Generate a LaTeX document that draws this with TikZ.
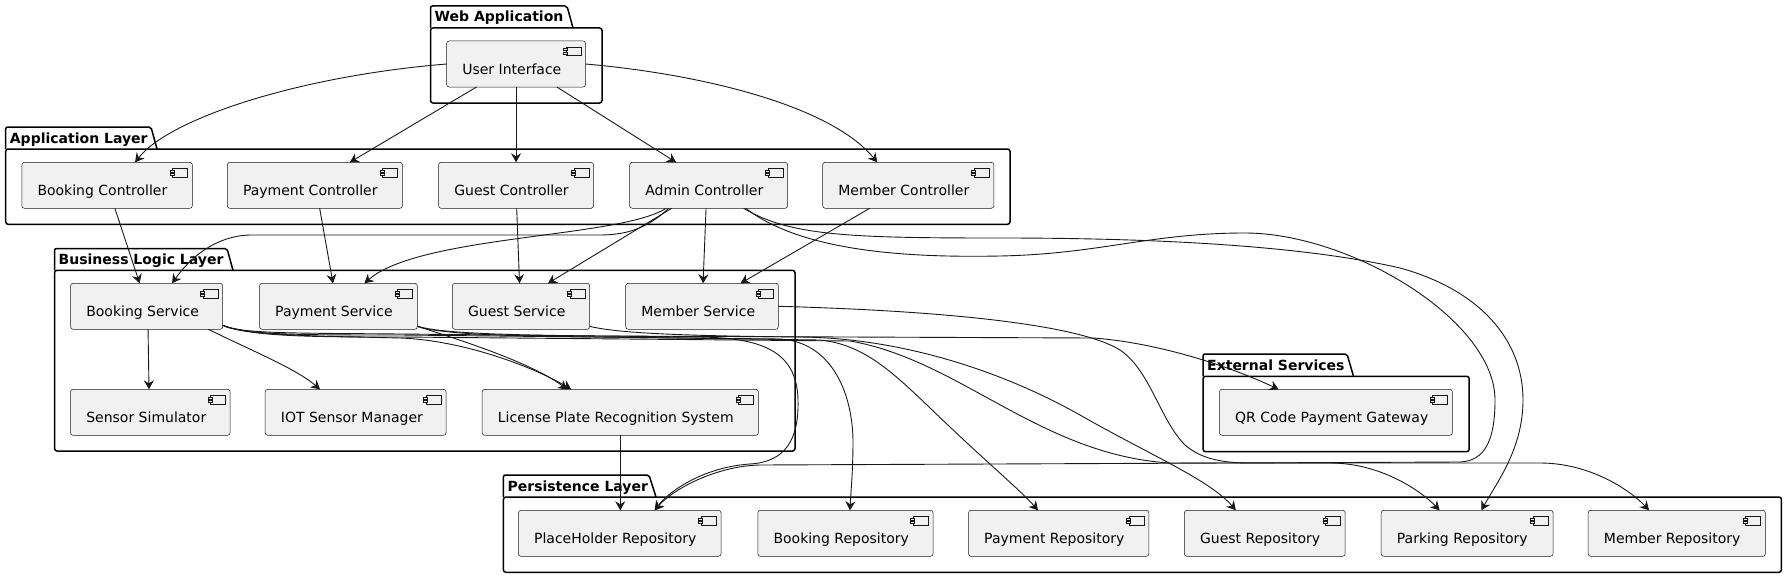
\documentclass[tikz,border=0pt]{standalone}
\usepackage{fontspec}
\setmainfont{DejaVu Sans}
\usetikzlibrary{arrows.meta}
\definecolor{compfill}{HTML}{F1F1F1}
\definecolor{ec}{HTML}{181818}
\tikzset{
  comp/.style={draw=ec, fill=compfill, rounded corners=2.5pt, line width=0.5pt, inner sep=0pt, outer sep=0pt},
  iconst/.style={draw=ec, fill=compfill, line width=0.5pt},
  lbl/.style={inner sep=0pt, font=\fontsize{14}{16}\selectfont, text=black},
  pkgst/.style={draw=black, line width=1.5pt},
  pkglbl/.style={inner sep=0pt, font=\fontsize{14}{16}\selectfont\bfseries, text=black},
  conn/.style={draw=ec, line width=0.9pt, -{Stealth[length=9pt,width=10pt,inset=3pt]}}
}
\newcommand\compbox[6]{%
  \node[comp, minimum width={(#3-#2)*1pt}, minimum height={(#5-#4)*1pt}] (#1) at ({(#2+#3)/2},{(#4+#5)/2}) {};
  \draw[iconst] ([xshift=-19.7pt,yshift=-6pt]#1.north east) rectangle ++(15,8.6);
  \draw[iconst] ([xshift=-22.3pt,yshift=-7.6pt]#1.north east) rectangle ++(4,2);
  \draw[iconst] ([xshift=-22.3pt,yshift=-11pt]#1.north east) rectangle ++(4,2);
  \node[lbl, anchor=base west] at ({#2+15.5},{#4+33.3}) {#6};
}
\newcommand\pkgbox[8]{%
  \draw[pkgst, rounded corners=2pt] (#1,#5) -- (#1,#2) -- (#3,#2) -- (#4,#5);
  \draw[pkgst, rounded corners=2.5pt] (#1,#5) rectangle (#6,#7);
  \node[pkglbl, anchor=base west] at ({#1+4},{#2+16}) {#8};
}
\begin{document}
\begin{tikzpicture}[x=1pt,y=-1pt]
\useasboundingbox (0,0) rectangle (1787,578);
% packages
\pkgbox{430.5}{6}{567}{573}{28}{602}{103}{Web Application}
\pkgbox{5.7}{127}{151}{157}{149}{1010}{224.3}{Application Layer}
\pkgbox{54.5}{248.5}{227}{233}{270.3}{795}{451}{Business Logic Layer}
\pkgbox{1203}{354}{1347}{1353.5}{376.3}{1469.2}{451.7}{External Services}
\pkgbox{503.4}{475}{649}{656}{497}{1781.4}{572.3}{Persistence Layer}
% components
\compbox{ui}{446.6}{585.5}{41}{87}{User Interface}
\compbox{bc}{21.8}{192.3}{162.3}{208.3}{Booking Controller}
\compbox{pc}{227.3}{402.4}{162.3}{208.3}{Payment Controller}
\compbox{gc}{438.6}{593.6}{162.3}{208.3}{Guest Controller}
\compbox{ac}{629.7}{787.6}{162.3}{208.3}{Admin Controller}
\compbox{mc}{822.7}{993.8}{162.3}{208.3}{Member Controller}
\compbox{bs}{70.6}{222.7}{283.3}{329.3}{Booking Service}
\compbox{ps}{259.5}{417.3}{283.3}{329.3}{Payment Service}
\compbox{gs}{452.4}{589.6}{283.3}{329.3}{Guest Service}
\compbox{ms}{625.7}{778.4}{283.3}{329.3}{Member Service}
\compbox{ss}{70.6}{230.2}{389.3}{435.3}{Sensor Simulator}
\compbox{iot}{265.2}{446}{389.3}{435.3}{IOT Sensor Manager}
\compbox{lpr}{482.2}{758.3}{389.3}{435.3}{License Plate Recognition System}
\compbox{qr}{1219.5}{1452.3}{389.3}{435.3}{QR Code Payment Gateway}
\compbox{phr}{518.4}{721}{510.3}{556.3}{PlaceHolder Repository}
\compbox{brp}{757.8}{933}{510.3}{556.3}{Booking Repository}
\compbox{prp}{968.5}{1148.8}{510.3}{556.3}{Payment Repository}
\compbox{grp}{1184.4}{1345.2}{510.3}{556.3}{Guest Repository}
\compbox{parp}{1381.2}{1553}{510.3}{556.3}{Parking Repository}
\compbox{mrp}{1588.2}{1765.3}{510.3}{556.3}{Member Repository}
% UI -> controllers
\draw[conn] (ui.west) .. controls (300,76) and (170,118) .. ([xshift=28pt]bc.north);
\draw[conn] ([xshift=-39.5pt]ui.south) -- ([xshift=35pt]pc.north);
\draw[conn] (ui.south) -- (ui.south |- gc.north);
\draw[conn] ([xshift=40.8pt]ui.south) -- ([xshift=-32.6pt]ac.north);
\draw[conn] (ui.east) .. controls (700,74) and (830,105) .. ([xshift=-31pt]mc.north);
% controllers -> services
\draw[conn] ([xshift=7.8pt]bc.south) -- ([xshift=-7pt]bs.north);
\draw[conn] ([xshift=4.8pt]pc.south) -- ([xshift=-5.4pt]ps.north);
\draw[conn] ([xshift=0.6pt]gc.south) -- ([xshift=-1.5pt]gs.north);
\draw[conn] ([xshift=-2.6pt]ac.south) -- ([xshift=1pt]ms.north);
\draw[conn] ([xshift=-38.5pt]mc.south) -- ([xshift=38.5pt]ms.north);
\draw[conn] ([xshift=-37pt]ac.south) -- ([xshift=27pt]gs.north);
\draw[conn] ([xshift=-42.6pt]ac.south) .. controls (620,238) and (420,235) .. ([xshift=26pt]ps.north);
\draw[conn] ([xshift=-40pt]ac.south) .. controls (650,226) and (630,235) .. (600,235) -- (250,235) .. controls (215,236) and (190,258) .. ([xshift=25.4pt]bs.north);
% admin loops
\draw[conn] ([xshift=35pt]ac.south) .. controls (790,236) and (850,238) .. (1000,238) .. controls (1150,238) and (1300,245) .. (1400,268) .. controls (1480,290) and (1523,340) .. (1523,400) .. controls (1523,450) and (1495,485) .. ([xshift=14.4pt]parp.north);
\draw[conn] ([xshift=37pt]ac.south) .. controls (800,250) and (900,258) .. (1000,256) .. controls (1100,254) and (1150,233) .. (1245,233) .. controls (1350,233) and (1495,320) .. (1495,400) .. controls (1495,440) and (1485,461) .. (1460,462) -- (760,465) .. controls (715,466) and (672,490) .. ([xshift=35pt]phr.north);
% services
\draw[conn] ([xshift=1.4pt]bs.south) -- ([xshift=-1.4pt]ss.north);
\draw[conn] ([xshift=-14.3pt]bs.south east) .. controls (250,350) and (295,368) .. ([xshift=-35.6pt]iot.north);
\draw[conn] ([yshift=4pt]bs.south east) .. controls (250,336) and (320,336) .. (400,338) .. controls (460,340) and (530,365) .. ([xshift=-49pt]lpr.north);
\draw[conn] ([yshift=3pt]ps.south east) .. controls (460,340) and (530,362) .. ([xshift=-53pt]lpr.north);
\draw[conn] (lpr.south) -- (lpr.south |- phr.north);
\draw[conn] ([yshift=4pt]bs.south east) .. controls (240,334) and (300,333) .. (400,334) -- (700,337) .. controls (760,338) and (797,350) .. (798,400) .. controls (799,440) and (785,462) .. (750,464) .. controls (705,467) and (670,490) .. ([xshift=35pt]phr.north);
\draw[conn] ([yshift=4pt]bs.south east) .. controls (245,335) and (300,335) .. (400,335) -- (780,339) .. controls (830,342) and (852,390) .. (853,440) .. controls (853,470) and (851,490) .. ([xshift=4.5pt]brp.north);
\draw[conn] ([yshift=3pt]ps.south east) .. controls (440,334) and (500,336) .. (600,337) -- (820,340) .. controls (870,345) and (900,380) .. (950,427) .. controls (990,465) and (1020,490) .. ([xshift=-20.6pt]prp.north);
\draw[conn] ([yshift=4pt]bs.south east) .. controls (250,337) and (320,337) .. (400,337) -- (850,341) .. controls (960,360) and (1040,455) .. (1170,463) -- (1330,463) .. controls (1380,463) and (1420,490) .. ([xshift=-27.5pt]parp.north);
\draw[conn] ([yshift=3pt]gs.south east) .. controls (620,334) and (700,336) .. (800,337) .. controls (900,338) and (1000,370) .. (1080,415) .. controls (1150,455) and (1210,480) .. ([xshift=-29pt]grp.north);
\draw[conn] ([yshift=3pt]ps.south east) .. controls (440,333) and (500,335) .. (600,336) -- (1093,338) .. controls (1150,342) and (1220,362) .. ([xshift=-57.3pt]qr.north);
\draw[conn] (ms.east) .. controls (950,311) and (1080,325) .. (1120,350) .. controls (1150,370) and (1160,420) .. (1185,445) .. controls (1200,458) and (1220,463) .. (1250,463) -- (1540,463) .. controls (1590,463) and (1630,490) .. ([xshift=-27.7pt]mrp.north);
\end{tikzpicture}
\end{document}
